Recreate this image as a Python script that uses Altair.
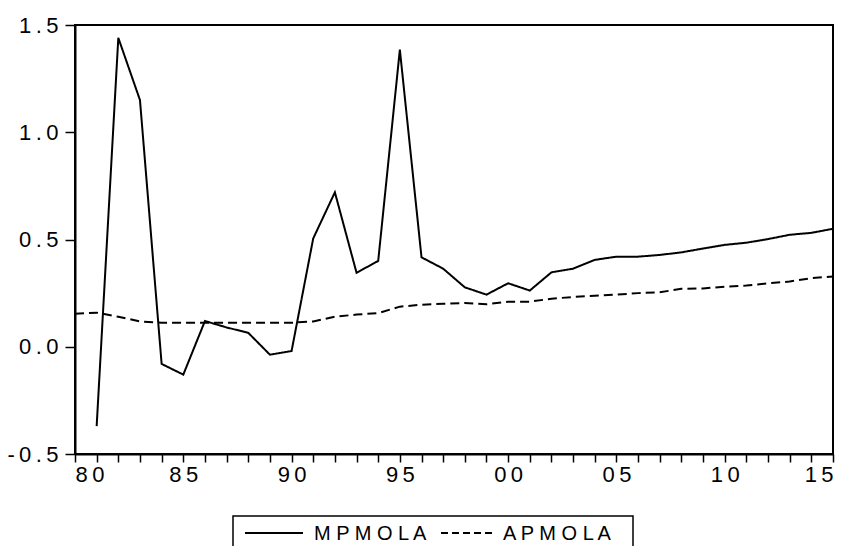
import altair as alt
import pandas as pd

years = list(range(1980, 2016))
mpmola = [None, -0.37, 1.44, 1.15, -0.08, -0.13, 0.12, 0.09, 0.065, -0.037, -0.02,
          0.505, 0.72, 0.345, 0.40, 1.385, 0.417, 0.364, 0.277, 0.243, 0.296,
          0.262, 0.347, 0.364, 0.405, 0.42, 0.42, 0.428, 0.44, 0.458, 0.475,
          0.485, 0.502, 0.522, 0.531, 0.55]
apmola = [0.154, 0.159, 0.14, 0.118, 0.112, 0.112, 0.112, 0.112, 0.112, 0.112, 0.112,
          0.118, 0.14, 0.15, 0.157, 0.187, 0.196, 0.2, 0.204, 0.198, 0.21,
          0.21, 0.224, 0.232, 0.238, 0.243, 0.25, 0.254, 0.27, 0.272, 0.28,
          0.285, 0.296, 0.304, 0.32, 0.328]
series_names = ["MPMOLA", "APMOLA"]

rows = []
for y, a, b in zip(years, mpmola, apmola):
    if a is not None:
        rows.append({"year": y, "value": a, "series": series_names[0]})
    rows.append({"year": y, "value": b, "series": series_names[1]})
df = pd.DataFrame(rows)

FONT = "Liberation Sans"
SP = "\u2009"

lines = alt.Chart(df).mark_line(strokeWidth=2, color="black", clip=True).encode(
    x=alt.X("year:Q", scale=alt.Scale(domain=[1980, 2015], nice=False, zero=False),
            axis=alt.Axis(values=years, title=None, grid=False,
                          labelExpr=f"datum.value % 5 == 0 ? substring(toString(datum.value),2,3) + '{SP}' + substring(toString(datum.value),3,4) : ''",
                          tickSize=8, labelPadding=2)),
    y=alt.Y("value:Q", scale=alt.Scale(domain=[-0.5, 1.5], nice=False),
            axis=alt.Axis(values=[-0.5, 0.0, 0.5, 1.0, 1.5], title=None, grid=False,
                          labelExpr=f"join(split(replace(format(datum.value,'.1f'),'\u2212','-'),''),'{SP}')",
                          tickSize=10, labelPadding=7, labelFontSize=22)),
    strokeDash=alt.StrokeDash("series:N",
                              scale=alt.Scale(domain=series_names, range=[[1, 0], [9, 5]]),
                              legend=None),
    detail="series:N",
)

# manual legend (EViews style box below the plot)
one = pd.DataFrame({"k": [0]})
leg_box = alt.Chart(one).mark_rect(fill="white", stroke="black", strokeWidth=1.5).encode(
    x=alt.value(158), x2=alt.value(558), y=alt.value(491), y2=alt.value(570))
leg_solid = alt.Chart(one).mark_rule(color="black", strokeWidth=2).encode(
    x=alt.value(170), x2=alt.value(228), y=alt.value(508))
leg_dash = alt.Chart(one).mark_rule(color="black", strokeWidth=2, strokeDash=[7, 4]).encode(
    x=alt.value(366), x2=alt.value(419), y=alt.value(508))
leg_t1 = alt.Chart(one).mark_text(text=" ".join(series_names[0]), font=FONT, fontSize=20,
                                  align="left", baseline="middle", color="black").encode(
    x=alt.value(239), y=alt.value(509))
leg_t2 = alt.Chart(one).mark_text(text=" ".join(series_names[1]), font=FONT, fontSize=20,
                                  align="left", baseline="middle", color="black").encode(
    x=alt.value(428), y=alt.value(509))

chart = alt.layer(lines, leg_box, leg_solid, leg_dash, leg_t1, leg_t2).properties(
    width=758, height=429,
    autosize=alt.AutoSizeParams(type="none"),
    padding={"left": 67, "top": 17, "right": 7, "bottom": 92},
).configure_view(
    stroke="black", strokeWidth=2
).configure_axis(
    domainColor="black", domainWidth=2, tickColor="black", tickWidth=1.5,
    labelFont=FONT, labelFontSize=22, labelColor="black"
)

chart.save("out.html", embed_options={"renderer": "svg", "actions": False})
